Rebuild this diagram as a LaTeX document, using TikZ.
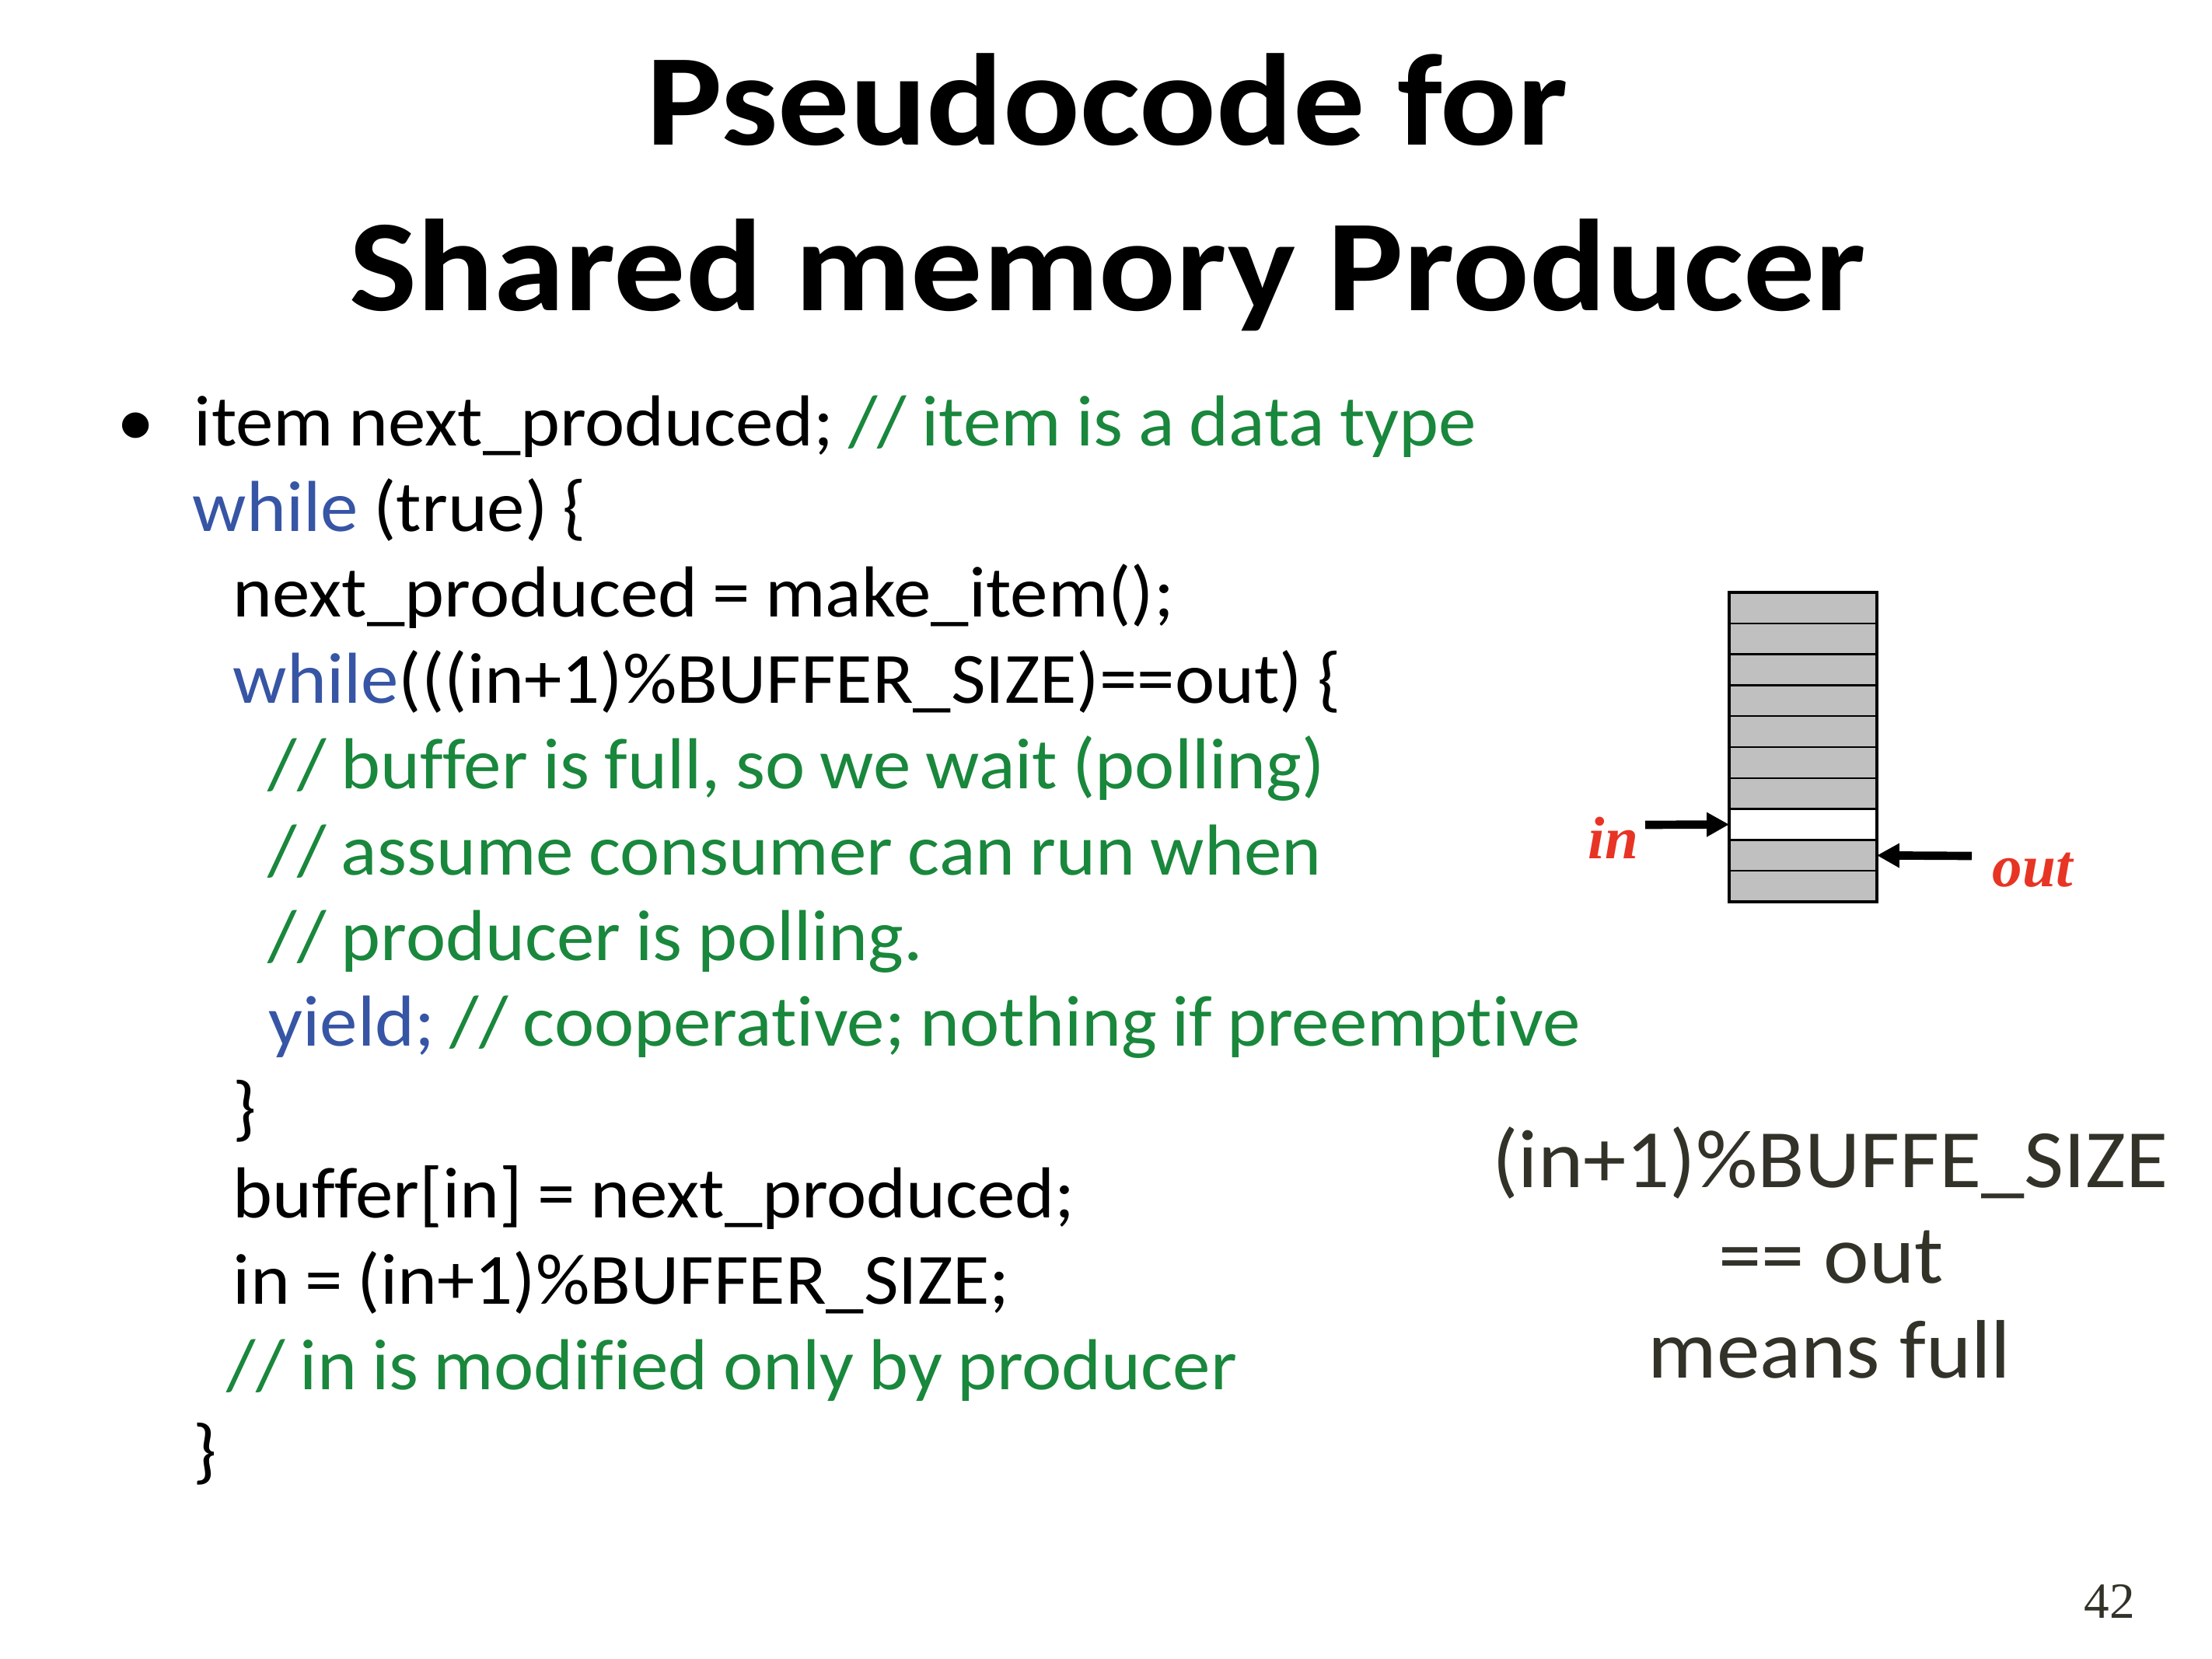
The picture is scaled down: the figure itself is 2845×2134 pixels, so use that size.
\documentclass[tikz,border=0pt]{standalone}
\usepackage{fontspec}
\usetikzlibrary{arrows.meta}
\newfontfamily\bodyfont[FakeStretch=1.045,Ligatures=NoCommon,WordSpace=0.88]{Carlito}
\newfontfamily\notefont[FakeStretch=1.04,Ligatures=NoCommon]{Carlito}
\newfontfamily\titlefont[FakeStretch=1.095,Ligatures=NoCommon]{Carlito}
\newfontfamily\serifnum{Liberation Serif}
\definecolor{kwblue}{RGB}{55,85,165}
\definecolor{cmgreen}{RGB}{25,135,60}
\definecolor{notegray}{RGB}{50,50,40}
\definecolor{ptred}{RGB}{232,52,36}
\definecolor{cellgray}{RGB}{192,192,192}
\tikzset{
  codeline/.style={anchor=base west, inner sep=0pt, font=\bodyfont\fontsize{23.5}{28}\selectfont, text=black},
  titleline/.style={anchor=base, inner sep=0pt, font=\titlefont\bfseries\fontsize{42.5}{50}\selectfont},
  noteline/.style={anchor=base, inner sep=0pt, font=\notefont\fontsize{27}{32}\selectfont, text=notegray},
  ptrlabel/.style={anchor=base west, inner sep=0pt, font=\serifnum\bfseries\itshape\fontsize{19.5}{24}\selectfont, text=ptred},
  cell/.style={draw=black, line width=0.6pt, fill=cellgray, minimum width=48.08pt, minimum height=10.07pt, inner sep=0pt, outer sep=0pt},
  fatarrow/.style={line width=2.7pt, -{Triangle[length=7.3pt,width=7.5pt]}},
}
\newcommand{\kw}[1]{\textcolor{kwblue}{#1}}
\newcommand{\cm}[1]{\textcolor{cmgreen}{#1}}
\begin{document}
\begin{tikzpicture}[x=0.25306pt,y=-0.25306pt]
\useasboundingbox[fill=white] (0,0) rectangle (2845,2134);
% title
\node[titleline] (t1) at (1424,186) {Pseudocode for};
\node[titleline] (t2) at (1425,399) {Shared memory Producer};
% code
\node[codeline] (bul) at (150,573) {\textbullet};
\node[codeline] (l1) at (249,573) {item next\_produced; \cm{// item is a data type}};
\node[codeline] (l2) at (247,683.4) {\kw{while} (true) \{};
\node[codeline] (l3) at (299,793.8) {next\_produced = make\_item();};
\node[codeline] (l4) at (299,904.2) {\kw{while}(((in+1)\%BUFFER\_SIZE)==out) \{};
\node[codeline] (l5) at (344,1014.6) {\cm{// buffer is full, so we wait (polling)}};
\node[codeline] (l6) at (344,1125) {\cm{// assume consumer can run when}};
\node[codeline] (l7) at (344,1235.4) {\cm{// producer is polling.}};
\node[codeline] (l8) at (345,1345.8) {\kw{yield;} \cm{// cooperative; nothing if preemptive}};
\node[codeline] (l9) at (299,1456.2) {\}};
\node[codeline] (l10) at (299,1566.6) {buffer[in] = next\_produced;};
\node[codeline] (l11) at (299,1677) {in = (in+1)\%BUFFER\_SIZE;};
\node[codeline] (l12) at (291,1787.4) {\cm{// in is modified only by producer}};
\node[codeline] (l13) at (248,1897.8) {\}};
% note
\node[noteline] (n1) at (2354,1527) {(in+1)\%BUFFE\_SIZE};
\node[noteline] (n2) at (2355,1650) {== out};
\node[noteline] (n3) at (2353,1772) {means full};
% buffer
\foreach \i in {1,...,10} {
  \node[cell] (c\i) at (2319,{762+39.8*(\i-0.5)}) {};
}
\node[cell, fill=white] at (c8) {};
\draw[line width=1pt] (c1.north west) rectangle (c10.south east);
\coordinate (inA) at (2116,1061);
\coordinate (outA) at (2536,1101);
\draw[fatarrow] (inA) -- (c8.west);
\draw[fatarrow] (outA) -- (c9.east);
\node[ptrlabel] (inL) at (2042,1104) {in};
\node[ptrlabel] (outL) at (2562,1140) {out};
% page number
\node[anchor=base west, inner sep=0pt, font=\serifnum\fontsize{16.5}{20}\selectfont, text=notegray] (pg) at (2680,2081) {42};
\end{tikzpicture}
\end{document}
